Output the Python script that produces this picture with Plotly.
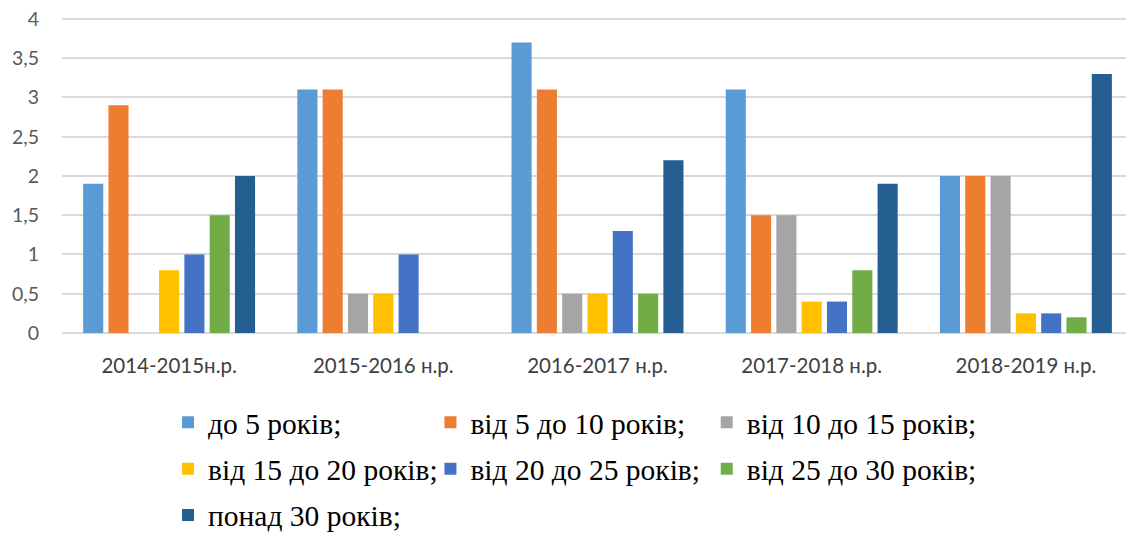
import plotly.graph_objects as go

categories = ["2014-2015н.р.", "2015-2016 н.р.", "2016-2017 н.р.", "2017-2018 н.р.", "2018-2019 н.р."]
series_names = ["до 5 років;", "від 5 до 10 років;", "від 10 до 15 років;",
                "від 15 до 20 років;", "від 20 до 25 років;", "від 25 до 30 років;",
                "понад 30 років;"]
s_do5 = [1.9, 3.1, 3.7, 3.1, 2.0]
s_5_10 = [2.9, 3.1, 3.1, 1.5, 2.0]
s_10_15 = [0, 0.5, 0.5, 1.5, 2.0]
s_15_20 = [0.8, 0.5, 0.5, 0.4, 0.25]
s_20_25 = [1.0, 1.0, 1.3, 0.4, 0.25]
s_25_30 = [1.5, 0, 0.5, 0.8, 0.2]
s_30plus = [2.0, 0, 2.2, 1.9, 3.3]
series_values = [s_do5, s_5_10, s_10_15, s_15_20, s_20_25, s_25_30, s_30plus]
colors = ["#5B9BD5", "#ED7D31", "#A5A5A5", "#FFC000", "#4472C4", "#70AD47", "#255E91"]
legend_of = ["legend", "legend2", "legend3", "legend", "legend2", "legend3", "legend"]
y_ticks = [0, 0.5, 1, 1.5, 2, 2.5, 3, 3.5, 4]

fig = go.Figure()
for i, (name, vals) in enumerate(zip(series_names, series_values)):
    fig.add_trace(go.Bar(
        x=categories, y=vals, name=name,
        marker=dict(color=colors[i], line=dict(width=0)),
        legend=legend_of[i], legendgroup=f"g{i}",
    ))

legend_common = dict(
    orientation="v", yanchor="top", y=-0.2, xanchor="left",
    font=dict(family="Liberation Serif", size=29.5, color="#000000"),
    bgcolor="rgba(0,0,0,0)", tracegroupgap=5, itemwidth=30,
)

fig.update_layout(
    width=1126, height=526,
    margin=dict(l=54, r=1, t=7, b=201, autoexpand=False),
    paper_bgcolor="white", plot_bgcolor="white",
    barmode="group", bargap=0.173, bargroupgap=0.206,
    separators=", ",
    showlegend=True,
    legend=dict(x=0.099, **legend_common),
    legend2=dict(x=0.344, **legend_common),
    legend3=dict(x=0.602, **legend_common),
    xaxis=dict(
        showgrid=False, showline=False, ticks="",
        tickfont=dict(family="Lato", size=20.5, color="#404040"),
        ticklabelstandoff=18,
    ),
    yaxis=dict(
        range=[0, 4.05], tickvals=y_ticks,
        showgrid=True, gridcolor="#D9D9D9", gridwidth=1.5,
        zeroline=True, zerolinecolor="#D9D9D9", zerolinewidth=1.5,
        showline=False, ticks="", ticklabeloverflow="allow",
        tickfont=dict(family="Lato", size=19.5, color="#595959"),
        ticklabelstandoff=22,
    ),
)

fig.write_html("out.html")
